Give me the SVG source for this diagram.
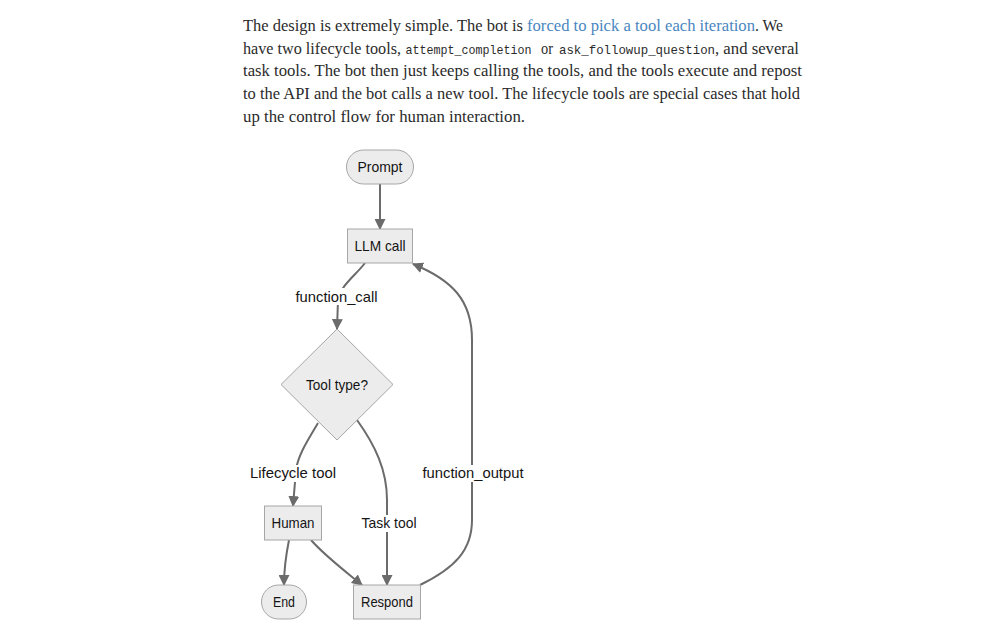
<svg xmlns="http://www.w3.org/2000/svg" width="1000" height="642" viewBox="0 0 1000 642">
<defs>
<style>
.p{font-family:"Liberation Serif","DejaVu Serif",serif;font-size:16.8px;fill:#2b2b2b}
.lnk{fill:#4a86bf}
.c{font-family:"Liberation Mono","DejaVu Sans Mono",monospace;font-size:12.2px;fill:#2b2b2b}
.node{fill:#ececec;stroke:#a6a6a6;stroke-width:1}
.t{font-family:"Liberation Sans","Noto Sans",Arial,sans-serif;font-size:14.8px;fill:#141414;text-anchor:middle;dominant-baseline:central}
.e{fill:none;stroke:#6b6b6b;stroke-width:2}
.lb{fill:#ffffff}
</style>
<marker id="ah" viewBox="0 0 10 10" refX="9" refY="5" markerWidth="11" markerHeight="11" markerUnits="userSpaceOnUse" orient="auto">
<path d="M0,0 L10,5 L0,10 z" fill="#6b6b6b"/>
</marker>
</defs>
<rect width="1000" height="642" fill="#ffffff"/>
<g id="paragraph">
<text class="p" x="243" y="31" textLength="280" lengthAdjust="spacingAndGlyphs">The design is extremely simple. The bot is</text>
<text class="p lnk" x="527" y="31" textLength="228" lengthAdjust="spacingAndGlyphs">forced to pick a tool each iteration</text>
<text class="p" x="755" y="31" textLength="28" lengthAdjust="spacingAndGlyphs">. We</text>
<text class="p" y="53.7"><tspan x="243" textLength="158" lengthAdjust="spacingAndGlyphs">have two lifecycle tools,</tspan><tspan class="c" x="405.5" textLength="126" lengthAdjust="spacingAndGlyphs">attempt_completion</tspan><tspan x="541" textLength="12" lengthAdjust="spacingAndGlyphs">or</tspan><tspan class="c" x="559" textLength="156" lengthAdjust="spacingAndGlyphs">ask_followup_question</tspan><tspan x="715" textLength="84" lengthAdjust="spacingAndGlyphs">, and several</tspan></text>
<text class="p" x="243" y="76.3" textLength="559" lengthAdjust="spacingAndGlyphs">task tools. The bot then just keeps calling the tools, and the tools execute and repost</text>
<text class="p" x="243" y="99" textLength="557" lengthAdjust="spacingAndGlyphs">to the API and the bot calls a new tool. The lifecycle tools are special cases that hold</text>
<text class="p" x="243" y="121.7" textLength="282" lengthAdjust="spacingAndGlyphs">up the control flow for human interaction.</text>
</g>
<g id="edges">
<path class="e" d="M380,184 L380,229" marker-end="url(#ah)"/>
<path class="e" d="M365,263 C355,276 340,286 338,300 L337,329" marker-end="url(#ah)"/>
<path class="e" d="M318,423 C308,440 298,455 296,470 L293,506" marker-end="url(#ah)"/>
<path class="e" d="M357,420 C375,445 387,470 387,500 L387,585" marker-end="url(#ah)"/>
<path class="e" d="M289,540 C286,555 284,570 284,585" marker-end="url(#ah)"/>
<path class="e" d="M311,540 C325,556 345,571 362,585" marker-end="url(#ah)"/>
<path class="e" d="M420,585 C455,568 472,550 472,520 L472,340 C472,300 452,280 413,264" marker-end="url(#ah)"/>
<rect class="lb" x="295" y="288" width="83" height="17"/>
<text class="t" x="336.5" y="296.5" textLength="82" lengthAdjust="spacingAndGlyphs">function_call</text>
<rect class="lb" x="249" y="465" width="88" height="17"/>
<text class="t" x="293" y="473" textLength="86" lengthAdjust="spacingAndGlyphs">Lifecycle tool</text>
<rect class="lb" x="360" y="515" width="58" height="17"/>
<text class="t" x="389" y="523" textLength="55" lengthAdjust="spacingAndGlyphs">Task tool</text>
<rect class="lb" x="422" y="465" width="103" height="17"/>
<text class="t" x="473" y="473" textLength="101" lengthAdjust="spacingAndGlyphs">function_output</text>
</g>
<g id="prompt">
<rect class="node" x="346.5" y="150" width="67" height="34" rx="17"/>
<text class="t" x="380" y="167" textLength="45" lengthAdjust="spacingAndGlyphs">Prompt</text>
</g>
<g id="llm">
<rect class="node" x="347.5" y="229" width="65" height="34"/>
<text class="t" x="380" y="246" textLength="51" lengthAdjust="spacingAndGlyphs">LLM call</text>
</g>
<g id="tooltype">
<polygon class="node" points="337,329 393,384.5 337,440 281,384.5"/>
<text class="t" x="337" y="384.5" textLength="62" lengthAdjust="spacingAndGlyphs">Tool type?</text>
</g>
<g id="human">
<rect class="node" x="264.5" y="506" width="57" height="34"/>
<text class="t" x="293" y="523" textLength="43" lengthAdjust="spacingAndGlyphs">Human</text>
</g>
<g id="end">
<rect class="node" x="261.5" y="585" width="45" height="34" rx="17"/>
<text class="t" x="284" y="602" textLength="22" lengthAdjust="spacingAndGlyphs">End</text>
</g>
<g id="respond">
<rect class="node" x="353.5" y="585" width="67" height="34"/>
<text class="t" x="387" y="602" textLength="52" lengthAdjust="spacingAndGlyphs">Respond</text>
</g>
</svg>
